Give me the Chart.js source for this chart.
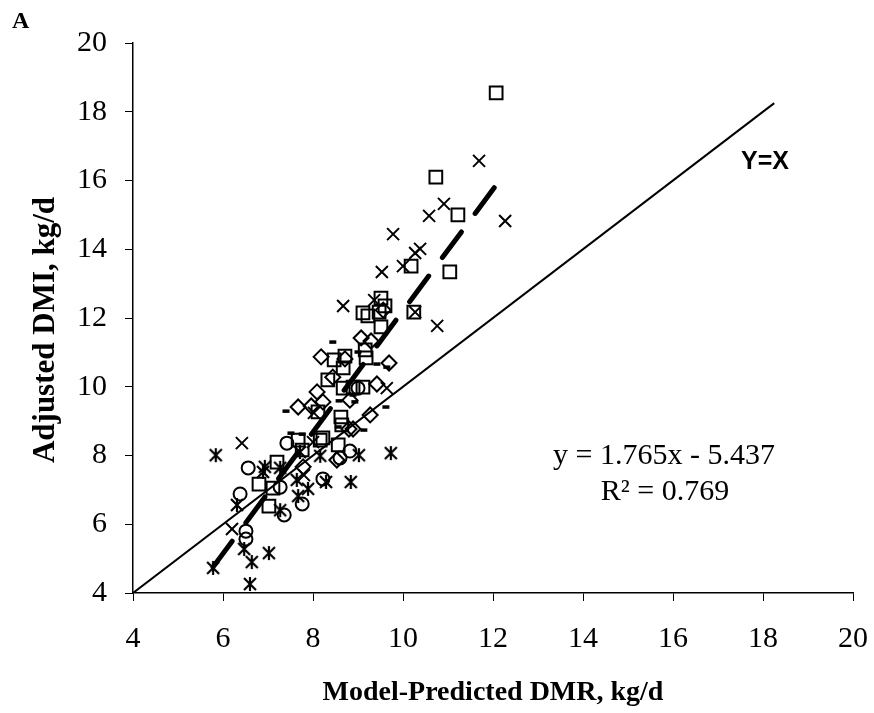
<!DOCTYPE html>
<html>
<head>
<meta charset="utf-8">
<script src="https://cdn.jsdelivr.net/npm/chart.js@4"></script>
<style>
  html, body { margin: 0; padding: 0; background: #fff; }
  #wrap { width: 874px; height: 713px; }
</style>
</head>
<body>
<div id="wrap"><canvas id="dmi-chart"></canvas></div>
<script>
// x = model-predicted DMR, y = adjusted DMI (kg/d)
const squareX = [12.07, 10.73, 11.22, 10.18, 11.04, 9.51, 9.60, 9.11, 9.22, 9.51, 10.24, 9.47,
                 8.47, 8.71, 9.16, 9.18, 8.67, 8.33, 8.67, 8.89, 9.11, 8.11, 8.62, 8.64,
                 8.16, 8.56, 7.76, 7.67, 7.20, 6.80, 7.11, 7.02, 8.22];
const squareY = [18.55, 16.10, 15.00, 13.51, 13.34, 12.58, 12.35, 12.15, 12.06, 11.74, 12.17, 12.17,
                 10.78, 10.89, 11.07, 10.84, 10.55, 10.20, 9.96, 9.99, 9.99, 9.27, 9.12, 8.89,
                 8.45, 8.31, 8.16, 8.45, 7.81, 7.17, 7.05, 6.53, 8.51];

const diamondX = [8.09, 7.67, 7.96, 8.22, 9.27, 8.89, 8.53, 9.07, 9.29, 8.18, 9.69, 8.44,
                  9.42, 7.78, 8.80, 8.82, 9.56, 8.71];
const diamondY = [9.85, 9.41, 9.44, 9.56, 9.18, 8.77, 7.87, 11.42, 11.33, 10.87, 10.69, 10.28,
                  10.08, 7.67, 8.77, 9.61, 12.23, 10.81];

const circleX = [6.56, 7.42, 8.82, 8.60, 8.22, 6.38, 7.36, 7.76, 6.51, 6.51, 7.27, 9.00];
const circleY = [7.64, 8.36, 8.13, 7.93, 7.32, 6.88, 6.27, 6.59, 5.80, 5.57, 7.08, 9.96];

const crossX = [11.69, 10.91, 10.58, 12.27, 9.78, 10.27, 10.38, 10.00, 9.53, 8.67, 9.36, 10.76,
                9.64, 6.42, 6.20, 7.80, 8.02, 8.00, 10.27];
const crossY = [16.57, 15.32, 14.97, 14.82, 14.44, 13.89, 14.01, 13.51, 13.34, 12.35, 12.52, 11.77,
                9.96, 8.36, 5.86, 7.43, 9.24, 8.39, 12.17];

const starX = [5.84, 6.93, 6.89, 7.27, 8.16, 9.02, 9.73, 7.64, 7.89, 8.29, 8.84, 6.31,
               7.27, 7.67, 6.47, 7.02, 6.64, 6.60, 5.78, 7.71];
const starY = [8.01, 7.67, 7.52, 7.64, 7.99, 8.01, 8.07, 7.29, 7.03, 7.23, 7.23, 6.56,
               6.41, 6.82, 5.28, 5.16, 4.90, 4.26, 4.73, 8.10];

const dashX = [7.40, 8.93, 9.62, 9.13, 8.44, 9.42, 9.64, 8.58, 9.00, 8.56, 8.89, 7.51, 7.76];
const dashY = [9.29, 9.56, 9.41, 8.74, 11.30, 10.66, 10.57, 9.59, 11.01, 8.83, 9.76, 8.65, 8.62];

// fitted line ends and the identity line
const fitX = [5.78, 12.27];
const fitY = [4.76, 16.22];
const idX = [4, 18.25];
const idY = [4, 18.25];

const tickValues = [4, 6, 8, 10, 12, 14, 16, 18, 20];

function toPoints(xs, ys) {
    return xs.map((x, i) => ({ x: x, y: ys[i] }));
}

// Excel-style asterisk: an X with a vertical bar through it
function asteriskMarker(size) {
    const c = document.createElement('canvas');
    c.width = size;
    c.height = size;
    const g = c.getContext('2d');
    g.strokeStyle = '#000';
    g.lineWidth = 2.2;
    g.beginPath();
    g.moveTo(2, 2); g.lineTo(size - 2, size - 2);
    g.moveTo(size - 2, 2); g.lineTo(2, size - 2);
    g.moveTo(size / 2, 1); g.lineTo(size / 2, size - 1);
    g.stroke();
    return c;
}

function markerSet(label, xs, ys, style, radius, width) {
    return {
        type: 'scatter',
        label: label,
        data: toPoints(xs, ys),
        pointStyle: style,
        pointRadius: radius,
        pointHoverRadius: radius,
        pointBorderColor: '#000',
        pointBackgroundColor: 'rgba(0,0,0,0)',
        pointBorderWidth: width,
        showLine: false
    };
}

const textPlugin = {
    id: 'figureText',
    afterDraw(chart) {
        const ctx = chart.ctx;
        ctx.save();
        ctx.fillStyle = '#000';
        ctx.textBaseline = 'alphabetic';

        ctx.font = 'bold 24px "Liberation Serif"';
        ctx.textAlign = 'left';
        ctx.fillText('A', 12, 28);

        ctx.font = 'bold 25px "Liberation Sans"';
        ctx.fillText('Y=X', 741, 169);

        ctx.font = '30px "Liberation Serif"';
        ctx.textAlign = 'center';
        ctx.fillText('y = 1.765x - 5.437', 664, 464);
        ctx.fillText('R² = 0.769', 665, 500);

        // y axis title, rotated
        ctx.translate(54, 330);
        ctx.rotate(-Math.PI / 2);
        ctx.font = 'bold 31px "Liberation Serif"';
        ctx.fillText('Adjusted DMI, kg/d', 0, 0);
        ctx.restore();
    }
};

const axisFont = { family: 'Liberation Serif', size: 30 };

document.addEventListener('DOMContentLoaded', () => {
    const ctx = document.getElementById('dmi-chart').getContext('2d');
    new Chart(ctx, {
        data: {
            datasets: [
                {
                    type: 'line',
                    label: 'Y=X',
                    data: toPoints(idX, idY),
                    borderColor: '#000',
                    borderWidth: 2,
                    pointRadius: 0,
                    fill: false
                },
                {
                    type: 'line',
                    label: 'fit',
                    data: toPoints(fitX, fitY),
                    borderColor: '#000',
                    borderWidth: 5,
                    borderDash: [32, 23],
                    borderCapStyle: 'round',
                    pointRadius: 0,
                    fill: false
                },
                markerSet('squares', squareX, squareY, 'rect', 9, 2),
                markerSet('diamonds', diamondX, diamondY, 'rectRot', 7.5, 2),
                markerSet('circles', circleX, circleY, 'circle', 6.5, 2),
                markerSet('crosses', crossX, crossY, 'crossRot', 8.5, 2),
                markerSet('asterisks', starX, starY, asteriskMarker(16), 8, 1),
                markerSet('dashes', dashX, dashY, 'line', 3.5, 3.5)
            ]
        },
        options: {
            responsive: true,
            maintainAspectRatio: false,
            animation: false,
            layout: { padding: { top: 43, right: 21, left: 0, bottom: 0 } },
            plugins: {
                legend: { display: false },
                tooltip: { enabled: false }
            },
            scales: {
                x: {
                    type: 'linear',
                    min: 4,
                    max: 20,
                    afterBuildTicks: (scale) => { scale.ticks = tickValues.map(v => ({ value: v })); },
                    afterFit: (scale) => {
                        scale.height = 120;
                        scale.paddingLeft = 0;
                        scale.paddingRight = 0;
                    },
                    ticks: { color: '#000', font: axisFont, padding: 20 },
                    grid: { drawOnChartArea: false, drawTicks: true, tickLength: 8, tickColor: '#000', tickWidth: 1 },
                    border: { color: '#000', width: 1.5 },
                    title: {
                        display: true,
                        text: 'Model-Predicted DMR, kg/d',
                        color: '#000',
                        font: { family: 'Liberation Serif', size: 28, weight: 'bold' },
                        padding: { top: 3, bottom: 3 }
                    }
                },
                y: {
                    type: 'linear',
                    min: 4,
                    max: 20,
                    afterBuildTicks: (scale) => { scale.ticks = tickValues.map(v => ({ value: v })); },
                    afterFit: (scale) => {
                        scale.width = 133;
                        scale.paddingTop = 0;
                        scale.paddingBottom = 0;
                    },
                    ticks: { color: '#000', font: axisFont, padding: 18 },
                    grid: { drawOnChartArea: false, drawTicks: true, tickLength: 8, tickColor: '#000', tickWidth: 1 },
                    border: { color: '#000', width: 1.5 }
                }
            }
        },
        plugins: [textPlugin]
    });
});
</script>
</body>
</html>
